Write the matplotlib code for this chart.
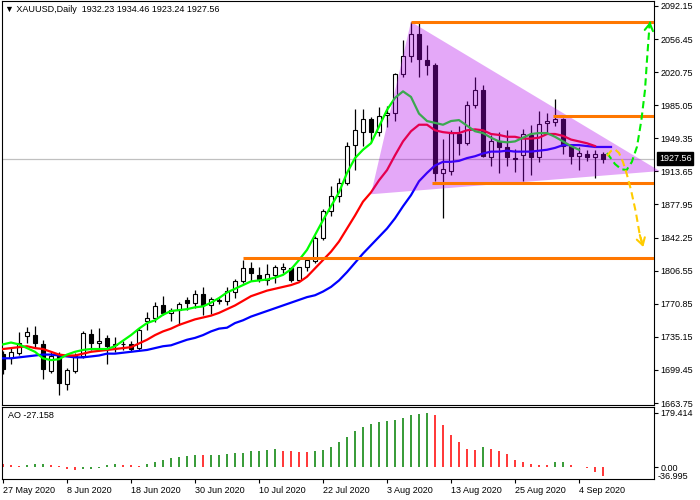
import numpy as np
import matplotlib.pyplot as plt
from matplotlib.patches import Polygon
from matplotlib.transforms import blended_transform_factory

plt.rcParams['font.family'] = ['Liberation Sans', 'DejaVu Sans']

# daily candles, 27 May 2020 .. 9 Sep 2020
opens = [1717, 1712, 1718, 1736, 1737, 1727, 1698, 1717, 1684, 1698,
         1714, 1738, 1728, 1734, 1726, 1727, 1727, 1723, 1752, 1755,
         1769, 1761, 1764, 1775, 1772, 1781, 1770, 1775, 1774, 1784,
         1795, 1809, 1802, 1797, 1802, 1808, 1809, 1797, 1810, 1817,
         1842, 1871, 1887, 1901, 1942, 1956, 1970, 1956, 1975, 1977,
         2019, 2038, 2062, 2034, 2028, 1912, 1914, 1954, 1944, 1985,
         2001, 1929, 1946, 1940, 1928, 1931, 1953, 1929, 1966, 1967,
         1970, 1941, 1930, 1932, 1929, 1932.23]
highs = [1720, 1724, 1740, 1746, 1747, 1732, 1720, 1719, 1702, 1718,
         1741, 1744, 1745, 1737, 1735, 1731, 1731, 1745, 1762, 1773,
         1779, 1766, 1773, 1778, 1786, 1789, 1778, 1777, 1789, 1798,
         1818, 1816, 1811, 1814, 1813, 1815, 1811, 1811, 1820, 1844,
         1873, 1898, 1906, 1945, 1981, 1981, 1972, 1983, 1984, 2020,
         2055, 2075, 2075, 2050, 2031, 1949, 1958, 1963, 1990, 2015,
         2007, 1953, 1956, 1958, 1938, 1959, 1964, 1979, 1977, 1992,
         1971, 1943, 1940, 1937, 1937, 1934.46]
lows = [1695, 1706, 1716, 1728, 1723, 1690, 1696, 1672, 1678, 1696,
        1712, 1721, 1722, 1706, 1719, 1721, 1720, 1721, 1742, 1751,
        1759, 1752, 1748, 1764, 1766, 1759, 1760, 1771, 1769, 1777,
        1793, 1795, 1794, 1791, 1793, 1804, 1794, 1795, 1806, 1815,
        1840, 1866, 1881, 1899, 1915, 1941, 1945, 1952, 1962, 1968,
        2016, 2032, 2015, 2018, 1903, 1863, 1910, 1931, 1942, 1982,
        1929, 1919, 1912, 1920, 1913, 1903, 1910, 1924, 1955, 1963,
        1932, 1922, 1915, 1925, 1906, 1923.24]
closes = [1700, 1719, 1729, 1740, 1728, 1700, 1715, 1685, 1699, 1714,
          1739, 1728, 1731, 1725, 1727, 1727.5, 1722, 1743, 1755, 1768,
          1761, 1764, 1771, 1772, 1781, 1770, 1776, 1774, 1785, 1795,
          1809, 1804, 1798, 1803, 1810, 1811, 1797, 1810, 1818, 1842,
          1871, 1887, 1901, 1941, 1958, 1970, 1956, 1973, 1977, 2019,
          2038, 2062, 2035, 2028, 1912, 1916, 1955, 1944, 1985, 2001,
          1930, 1946, 1940, 1929, 1927, 1954, 1929, 1965, 1968, 1970,
          1941, 1930, 1933, 1929, 1932, 1927.56]

# moving averages as drawn
ma_green = [1727, 1729, 1727, 1723, 1719, 1712, 1710, 1711, 1716, 1719,
            1721, 1722, 1722, 1722, 1725, 1731, 1737, 1744, 1750, 1753,
            1759, 1763, 1764, 1765, 1767, 1768, 1772, 1777, 1783, 1787,
            1791, 1795, 1796, 1797, 1799, 1802, 1808, 1818, 1829, 1845,
            1861, 1876, 1891, 1912, 1928, 1937, 1944, 1962, 1980, 1993,
            2000, 1994, 1976, 1968, 1966, 1964, 1968, 1969, 1963, 1957,
            1955, 1950, 1946, 1945, 1946, 1950, 1954, 1955, 1955, 1951,
            1946, 1941, 1937]
ma_red = [1722, 1723, 1724, 1725, 1723, 1722, 1719, 1716, 1715, 1715,
          1717, 1719, 1720, 1721, 1722, 1723, 1724, 1728, 1732, 1737,
          1741, 1744, 1748, 1751, 1754, 1756, 1758, 1761, 1765, 1769,
          1774, 1779, 1782, 1785, 1787, 1789, 1791, 1794, 1800, 1809,
          1818, 1827, 1838, 1852, 1866, 1881, 1891, 1904, 1915, 1931,
          1946, 1957, 1964, 1964, 1958, 1956, 1955, 1955, 1958, 1959,
          1958, 1954, 1953, 1951, 1951, 1949, 1949, 1950, 1954, 1954,
          1952, 1948, 1946, 1944, 1941]
ma_blue = [1712, 1712, 1713, 1714, 1715, 1716, 1716, 1715, 1714, 1713,
           1713, 1714, 1715, 1717, 1717, 1718, 1719, 1720, 1721, 1723,
           1725, 1726, 1729, 1732, 1734, 1737, 1741, 1744, 1745, 1750,
           1753, 1757, 1760, 1763, 1766, 1769, 1772, 1775, 1778, 1780,
           1784, 1789, 1796, 1805, 1815, 1825, 1834, 1843, 1852, 1863,
           1876, 1888, 1903, 1912, 1920, 1924, 1924, 1925, 1928, 1930,
           1933, 1935, 1935, 1936, 1935, 1935, 1935, 1936, 1937, 1939,
           1942, 1942, 1942, 1941, 1940, 1940, 1940]

# Awesome Oscillator
ao = [12, 8.9, 5.6, 8.9, 9.5, 12, 9, 3.3, -5, -9.6,
      -7, -4, -1.5, 8, 11, 8, 6, 5.5, 11, 18,
      24, 32, 35, 36, 39.4, 39, 41.6, 42, 45, 47,
      47.5, 52.5, 55, 57.5, 58.5, 55, 54.5, 50.8, 50.4, 52.5,
      58, 68, 82, 98.5, 118, 131, 142, 148, 151, 154,
      161, 171, 176, 179.414, 171, 138, 107, 82, 58.5, 58,
      66, 61, 52.5, 45, 25, 16, 9.5, 9, 8.8, 16,
      16.5, 9, 1, -2, -16, -27.158]

# drawn objects
tri_i = [51, 46, 82.1]
tri_p = [2075, 1889, 1914]
level_p = [2075, 1973, 1901, 1820]
level_start = [51, 68.7, 53.6, 30]
up_i = [75.5, 76.5, 77.3, 77.96, 78.6, 79.25, 79.8, 80.25, 80.5, 80.8, 80.9]
up_p = [1933.5, 1921.6, 1915.9, 1915.2, 1923.8, 1940.3, 1969.1, 2001.5, 2033.9, 2069.5, 2075.2]
dn_i = [75.5, 76.0, 76.5, 77.0, 77.5, 78.0, 78.5, 79.1, 79.6, 80.04]
dn_p = [1930.3, 1935.7, 1937.3, 1933.5, 1923.8, 1909.8, 1893.6, 1869.9, 1845, 1832]

price_ticks = [2092.15, 2056.45, 2020.75, 1985.05, 1949.35, 1913.65, 1877.95,
               1842.25, 1806.55, 1770.85, 1735.15, 1699.45, 1663.75]
date_pos = [0, 8, 16, 24, 32, 40, 48, 56, 64, 72]
date_labels = ['27 May 2020', '8 Jun 2020', '18 Jun 2020', '30 Jun 2020', '10 Jul 2020',
               '22 Jul 2020', '3 Aug 2020', '13 Aug 2020', '25 Aug 2020', '4 Sep 2020']
last_price = 1927.56

fs = 6.5
opens = np.array(opens)
closes = np.array(closes)
x = np.arange(len(closes))
XMIN, XMAX = -0.125, 81.375

fig = plt.figure(figsize=(7, 5), dpi=100)
ax = fig.add_axes([2/700, 95/500, 652/700, 404/500])
ao_ax = fig.add_axes([2/700, 21/500, 652/700, 72/500])

# main chart
ax.axhline(last_price, color='#c0c0c0', lw=0.9, zorder=1)
up = closes >= opens
ax.vlines(x, lows, highs, color='black', lw=0.9, zorder=2)
ax.bar(x, np.maximum(np.abs(closes - opens), 0.8), bottom=np.minimum(opens, closes),
       width=0.6, color=np.where(up, 'white', 'black'), edgecolor='black', lw=0.8, zorder=3)

ax.plot(np.arange(len(ma_blue)), ma_blue, color='#0000ff', lw=1.6, zorder=4)
ax.plot(np.arange(len(ma_red)), ma_red, color='#ff0000', lw=1.6, zorder=4)
ax.plot(np.arange(len(ma_green)), ma_green, color='#00ff00', lw=1.6, zorder=4)

ax.add_patch(Polygon(list(zip(tri_i, tri_p)), closed=True, facecolor='#b000eb',
                     alpha=0.34, edgecolor='none', zorder=5, clip_on=False))

ax.hlines(level_p, level_start, XMAX, color='#ff7700', lw=2.2, zorder=6)

ax.plot(up_i, up_p, color='#00ee00', lw=1.5, dashes=(3.5, 2), zorder=7)
ax.annotate('', xy=(up_i[-1], up_p[-1]), xytext=(up_i[-2], up_p[-2]),
            arrowprops=dict(arrowstyle='->,head_length=0.5,head_width=0.3', color='#00ee00',
                            lw=1.5, shrinkA=0, shrinkB=0), zorder=7)
ax.plot(dn_i, dn_p, color='#ffcc00', lw=1.5, dashes=(3.5, 2), zorder=7)
ax.annotate('', xy=(dn_i[-1], dn_p[-1]), xytext=(dn_i[-2], dn_p[-2]),
            arrowprops=dict(arrowstyle='->,head_length=0.5,head_width=0.3', color='#ffcc00',
                            lw=1.5, shrinkA=0, shrinkB=0), zorder=7)

ax.set_xlim(XMIN, XMAX)
ax.set_ylim(1661.6, 2097.5)
ax.yaxis.tick_right()
ax.set_yticks(price_ticks)
ax.set_yticklabels([f'{v:.2f}' for v in price_ticks])
ax.tick_params(axis='y', direction='out', length=3, width=0.8, pad=1.5, labelsize=fs)
ax.tick_params(axis='x', bottom=False, labelbottom=False)
for s in ax.spines.values():
    s.set_linewidth(0.8)

tr = blended_transform_factory(ax.transAxes, ax.transData)
ax.text(1 + 5/652, last_price, f'{last_price:.2f}', transform=tr, ha='left', va='center',
        color='white', fontsize=fs,
        bbox=dict(boxstyle='square,pad=0.2', fc='black', ec='black'))

# AO panel
ao = np.array(ao)
rising = np.r_[False, ao[1:] > ao[:-1]]
ao_ax.vlines(np.arange(len(ao)), 0, ao, colors=np.where(rising, '#008000', '#ff0000'), lw=1.1)
ao_ax.set_xlim(XMIN, XMAX)
ao_ax.set_ylim(-38.4, 198)
ao_ax.yaxis.tick_right()
ao_ax.set_yticks([179.414, 0])
ao_ax.set_yticklabels(['179.414', '0.00'])
ao_ax.tick_params(axis='y', direction='out', length=3, width=0.8, pad=1.5, labelsize=fs)
ao_ax.set_xticks(date_pos)
ao_ax.set_xticklabels(date_labels)
ao_ax.tick_params(axis='x', direction='out', length=3, width=0.8, pad=2, labelsize=fs)
for lab in ao_ax.get_xticklabels():
    lab.set_ha('left')
for s in ao_ax.spines.values():
    s.set_linewidth(0.8)
tr2 = blended_transform_factory(ao_ax.transAxes, ao_ax.transData)
ao_ax.text(1 + 4/652, -30, '-36.995', transform=tr2, ha='left', va='center', fontsize=fs)

fig.text(5/700, 1 - 10/500, '\u25bc XAUUSD,Daily  1932.23 1934.46 1923.24 1927.56',
         fontsize=fs, va='center', ha='left')
fig.text(8/700, 1 - 416/500, 'AO -27.158', fontsize=fs, va='center', ha='left')

fig.savefig('out.png', dpi=100)
